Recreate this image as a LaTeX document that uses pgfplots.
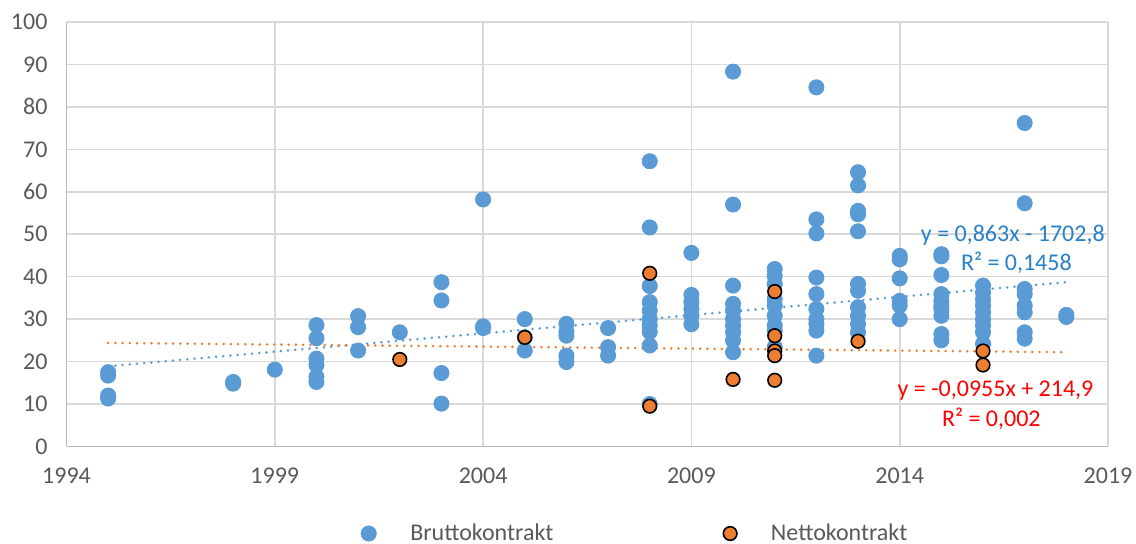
\documentclass[border=0pt]{standalone}
\usepackage{fontspec}
\setmainfont{Carlito}
\usepackage{pgfplots}
\pgfplotsset{compat=1.18}
\usepackage{pgfplotstable}

\definecolor{brutto}{HTML}{5B9BD5}
\definecolor{netto}{HTML}{ED7D31}
\definecolor{gridgray}{HTML}{D9D9D9}
\definecolor{ticktext}{HTML}{595959}
\definecolor{eqblue}{RGB}{40,128,200}

% Bruttokontrakt
\pgfplotstableread{
year val
1995 17.5
1995 16.7
1995 12.0
1995 11.3
1998 15.2
1998 14.8
1999 18.1
2000 28.6
2000 25.5
2000 20.7
2000 19.2
2000 16.4
2000 15.2
2001 30.7
2001 28.1
2001 22.6
2002 26.9
2003 38.7
2003 34.4
2003 17.3
2003 10.1
2004 58.2
2004 28.3
2004 27.9
2005 30.0
2005 22.6
2005 25.7
2006 28.9
2006 27.0
2006 26.1
2006 21.4
2006 19.9
2007 27.9
2007 23.4
2007 21.4
2008 67.2
2008 51.6
2008 37.8
2008 34.0
2008 32.0
2008 30.0
2008 28.5
2008 27.0
2008 23.8
2008 10.0
2009 45.6
2009 35.7
2009 34.0
2009 32.4
2009 30.8
2009 28.8
2010 88.3
2010 57.0
2010 37.9
2010 33.6
2010 32.0
2010 30.0
2010 28.5
2010 26.9
2010 25.0
2010 22.2
2011 41.8
2011 40.2
2011 38.3
2011 34.7
2011 33.2
2011 30.8
2011 28.5
2011 27.3
2011 23.4
2012 84.6
2012 53.5
2012 50.2
2012 39.8
2012 35.9
2012 32.4
2012 30.0
2012 28.9
2012 27.3
2012 21.4
2013 64.6
2013 61.5
2013 55.5
2013 54.7
2013 50.7
2013 38.3
2013 36.7
2013 32.8
2013 30.8
2013 28.9
2013 26.9
2014 44.9
2014 44.1
2014 39.6
2014 34.3
2014 33.2
2014 30.0
2015 45.3
2015 44.8
2015 40.4
2015 35.9
2015 34.3
2015 33.2
2015 32.4
2015 30.8
2015 26.5
2015 25.0
2016 37.9
2016 36.3
2016 34.7
2016 33.2
2016 31.6
2016 30.0
2016 28.5
2016 26.9
2016 24.2
2017 76.2
2017 57.3
2017 37.1
2017 35.9
2017 33.2
2017 31.6
2017 26.9
2017 25.4
2018 31.0
2018 30.5
}\brutto

% Nettokontrakt
\pgfplotstableread{
year val
2002 20.5
2005 25.7
2008 40.8
2008 9.5
2010 15.8
2011 36.5
2011 26.1
2011 22.5
2011 21.4
2011 15.6
2013 24.8
2016 22.5
2016 19.2
}\netto

\begin{document}
\begin{tikzpicture}
\path[use as bounding box] (-33.25pt,-48.5pt) rectangle (534.75pt,223.25pt);
\begin{axis}[
    at={(0,0)}, anchor=south west,
    scale only axis,
    width=520.75pt, height=212.25pt,
    xmin=1994, xmax=2019, ymin=0, ymax=100,
    xtick={1994,1999,...,2019},
    ytick={0,10,...,100},
    grid=major,
    major grid style={gridgray, line width=0.8pt},
    axis line style={gridgray!85!black, line width=0.8pt},
    axis lines*=left,
    major tick length=0pt,
    tick label style={ticktext, font=\fontsize{12}{14}\selectfont},
    xticklabel style={yshift=-7pt},
    yticklabel style={xshift=-6pt},
    /pgf/number format/1000 sep={},
    /pgf/number format/assume math mode=true,
    clip=false,
    legend columns=2,
    legend style={draw=none, at={(0.547,-0.205)}, anchor=center,
        font=\fontsize{12}{14}\selectfont, text=ticktext,
        /tikz/every even column/.append style={column sep=83pt}},
    legend image code/.code={\draw[#1] plot coordinates {(0cm,0cm)};},
]
\addplot[only marks, mark=*, mark size=3.8pt, mark options={draw=brutto, fill=brutto}]
    table[x=year, y=val] {\brutto};
\addlegendentry{\hspace{15pt}Bruttokontrakt}
\addplot[only marks, mark=*, mark size=3.4pt, mark options={draw=black, fill=netto, line width=0.8pt}]
    table[x=year, y=val] {\netto};
\addlegendentry{\hspace{15pt}Nettokontrakt}

% linear trend lines (Excel)
\addplot[forget plot, brutto, line width=1.4pt, line cap=round, dash pattern=on 0.01pt off 3.6pt]
    coordinates {(1995,18.9) (2018,38.7)};
\addplot[forget plot, netto, line width=1.4pt, line cap=round, dash pattern=on 0.01pt off 3.6pt]
    coordinates {(1995,24.4) (2018,22.2)};

\node[anchor=east, eqblue, font=\fontsize{12}{14}\selectfont, inner sep=0pt] at (axis cs:2018.93,49.8) {y = 0,863x - 1702,8};
\node[eqblue, font=\fontsize{12}{14}\selectfont, inner sep=0pt] at (axis cs:2016.8,43.2) {R² = 0,1458};
\node[red, font=\fontsize{12}{14}\selectfont, inner sep=0pt] at (axis cs:2016.3,13.1) {y = -0,0955x + 214,9};
\node[red, font=\fontsize{12}{14}\selectfont, inner sep=0pt] at (axis cs:2016.2,6.6) {R² = 0,002};
\end{axis}
\end{tikzpicture}
\end{document}
